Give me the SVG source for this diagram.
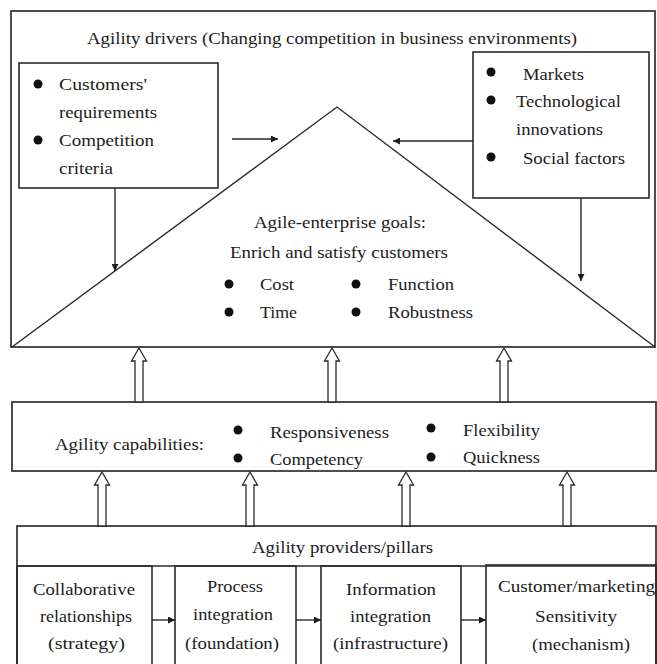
<svg xmlns="http://www.w3.org/2000/svg" xmlns:xlink="http://www.w3.org/1999/xlink" width="657" height="664" viewBox="0 0 657 664">
<style>
  text { font-family: "Liberation Serif", "Times New Roman", serif; font-size: 17px; fill: #1c1c1c; }
  .box { fill: none; stroke: #2a2a2a; stroke-width: 1.6; }
  .frame { fill: #ffffff; stroke: #3a3a3a; stroke-width: 1.8; }
  .line { fill: none; stroke: #2a2a2a; stroke-width: 1.4; }
  .bul { fill: #111; }
  .hollow { fill: #ffffff; stroke: #2a2a2a; stroke-width: 1.3; }
</style>
<defs>
  <marker id="ah" viewBox="0 0 10 10" refX="10" refY="5" markerWidth="7" markerHeight="7" markerUnits="userSpaceOnUse" orient="auto">
    <path d="M0,0 L10,5 L0,10 Z" fill="#1c1c1c"/>
  </marker>
  <path id="harrow" d="M0,0 L7.5,13 L4,13 L4,54 L-4,54 L-4,13 L-7.5,13 Z"/>
</defs>
<rect width="657" height="664" fill="#ffffff"/>

<g id="drivers-frame">
  <rect class="frame" x="11" y="11" width="644" height="336"/>
  <text x="87" y="44" textLength="490" lengthAdjust="spacingAndGlyphs">Agility drivers (Changing competition in business environments)</text>
</g>

<g id="goals-triangle">
  <path class="line" d="M12,347 L337,107 L655,347"/>
  <text x="254" y="228" textLength="172" lengthAdjust="spacingAndGlyphs">Agile-enterprise goals:</text>
  <text x="230" y="258" textLength="218" lengthAdjust="spacingAndGlyphs">Enrich and satisfy customers</text>
  <circle class="bul" cx="229" cy="284" r="4.5"/>
  <circle class="bul" cx="229" cy="312" r="4.5"/>
  <circle class="bul" cx="356" cy="284" r="4.5"/>
  <circle class="bul" cx="356" cy="312" r="4.5"/>
  <text x="260" y="290" textLength="34" lengthAdjust="spacingAndGlyphs">Cost</text>
  <text x="260" y="318" textLength="37" lengthAdjust="spacingAndGlyphs">Time</text>
  <text x="388" y="290" textLength="66" lengthAdjust="spacingAndGlyphs">Function</text>
  <text x="388" y="318" textLength="85" lengthAdjust="spacingAndGlyphs">Robustness</text>
</g>

<g id="drivers-left">
  <rect class="box" x="19" y="63" width="199" height="125" fill="#fff"/>
  <circle class="bul" cx="38" cy="84" r="4.5"/>
  <circle class="bul" cx="38" cy="140" r="4.5"/>
  <text x="59" y="90" textLength="88" lengthAdjust="spacingAndGlyphs">Customers'</text>
  <text x="59" y="118" textLength="98" lengthAdjust="spacingAndGlyphs">requirements</text>
  <text x="59" y="146" textLength="95" lengthAdjust="spacingAndGlyphs">Competition</text>
  <text x="59" y="174" textLength="54" lengthAdjust="spacingAndGlyphs">criteria</text>
</g>

<g id="drivers-right">
  <rect class="box" x="473" y="52" width="176" height="146" fill="#fff"/>
  <circle class="bul" cx="491" cy="72" r="4.5"/>
  <circle class="bul" cx="491" cy="100" r="4.5"/>
  <circle class="bul" cx="491" cy="157" r="4.5"/>
  <text x="523" y="80" textLength="61" lengthAdjust="spacingAndGlyphs">Markets</text>
  <text x="516" y="107" textLength="105" lengthAdjust="spacingAndGlyphs">Technological</text>
  <text x="516" y="135" textLength="87" lengthAdjust="spacingAndGlyphs">innovations</text>
  <text x="523" y="164" textLength="102" lengthAdjust="spacingAndGlyphs">Social factors</text>
</g>

<g id="capabilities">
  <rect class="frame" x="12" y="402" width="644" height="69"/>
  <text x="55" y="450" textLength="149" lengthAdjust="spacingAndGlyphs">Agility capabilities:</text>
  <circle class="bul" cx="238" cy="430" r="4.5"/>
  <circle class="bul" cx="238" cy="458" r="4.5"/>
  <circle class="bul" cx="431" cy="428" r="4.5"/>
  <circle class="bul" cx="431" cy="457" r="4.5"/>
  <text x="270" y="438" textLength="119" lengthAdjust="spacingAndGlyphs">Responsiveness</text>
  <text x="270" y="465" textLength="93" lengthAdjust="spacingAndGlyphs">Competency</text>
  <text x="463" y="436" textLength="77" lengthAdjust="spacingAndGlyphs">Flexibility</text>
  <text x="463" y="463" textLength="77" lengthAdjust="spacingAndGlyphs">Quickness</text>
</g>

<g id="providers">
  <rect class="frame" x="17" y="526" width="639" height="140"/>
  <text x="252" y="553" textLength="181" lengthAdjust="spacingAndGlyphs">Agility providers/pillars</text>
  <line class="line" x1="17" y1="566" x2="656" y2="566"/>
</g>

<g id="pillar-collaborative">
  <rect class="box" x="17" y="566" width="135" height="100"/>
  <text x="33" y="595" textLength="102" lengthAdjust="spacingAndGlyphs">Collaborative</text>
  <text x="40" y="622" textLength="92" lengthAdjust="spacingAndGlyphs">relationships</text>
  <text x="48" y="649" textLength="77" lengthAdjust="spacingAndGlyphs">(strategy)</text>
</g>

<g id="pillar-process">
  <rect class="box" x="175" y="566" width="121" height="100"/>
  <text x="207" y="592" textLength="56" lengthAdjust="spacingAndGlyphs">Process</text>
  <text x="193" y="620" textLength="80" lengthAdjust="spacingAndGlyphs">integration</text>
  <text x="185" y="649" textLength="94" lengthAdjust="spacingAndGlyphs">(foundation)</text>
</g>

<g id="pillar-information">
  <rect class="box" x="321" y="566" width="140" height="100"/>
  <text x="346" y="595" textLength="90" lengthAdjust="spacingAndGlyphs">Information</text>
  <text x="350" y="622" textLength="81" lengthAdjust="spacingAndGlyphs">integration</text>
  <text x="333" y="649" textLength="115" lengthAdjust="spacingAndGlyphs">(infrastructure)</text>
</g>

<g id="pillar-customer">
  <rect class="box" x="486" y="565" width="170" height="101"/>
  <text x="498" y="592" textLength="157" lengthAdjust="spacingAndGlyphs">Customer/marketing</text>
  <text x="535" y="622" textLength="82" lengthAdjust="spacingAndGlyphs">Sensitivity</text>
  <text x="532" y="650" textLength="98" lengthAdjust="spacingAndGlyphs">(mechanism)</text>
</g>

<g id="connectors">
  <line class="line" x1="232" y1="139" x2="278" y2="139" marker-end="url(#ah)"/>
  <line class="line" x1="473" y1="141" x2="393" y2="141" marker-end="url(#ah)"/>
  <line class="line" x1="115" y1="188" x2="115" y2="271" marker-end="url(#ah)"/>
  <line class="line" x1="581" y1="198" x2="581" y2="281" marker-end="url(#ah)"/>
  <use xlink:href="#harrow" class="hollow" x="139" y="348"/>
  <use xlink:href="#harrow" class="hollow" x="332" y="348"/>
  <use xlink:href="#harrow" class="hollow" x="504" y="348"/>
  <use xlink:href="#harrow" class="hollow" x="102" y="472"/>
  <use xlink:href="#harrow" class="hollow" x="250" y="472"/>
  <use xlink:href="#harrow" class="hollow" x="406" y="472"/>
  <use xlink:href="#harrow" class="hollow" x="567" y="472"/>
  <line class="line" x1="152" y1="620" x2="175" y2="620" marker-end="url(#ah)"/>
  <line class="line" x1="296" y1="620" x2="321" y2="620" marker-end="url(#ah)"/>
  <line class="line" x1="461" y1="620" x2="486" y2="620" marker-end="url(#ah)"/>
</g>
</svg>
